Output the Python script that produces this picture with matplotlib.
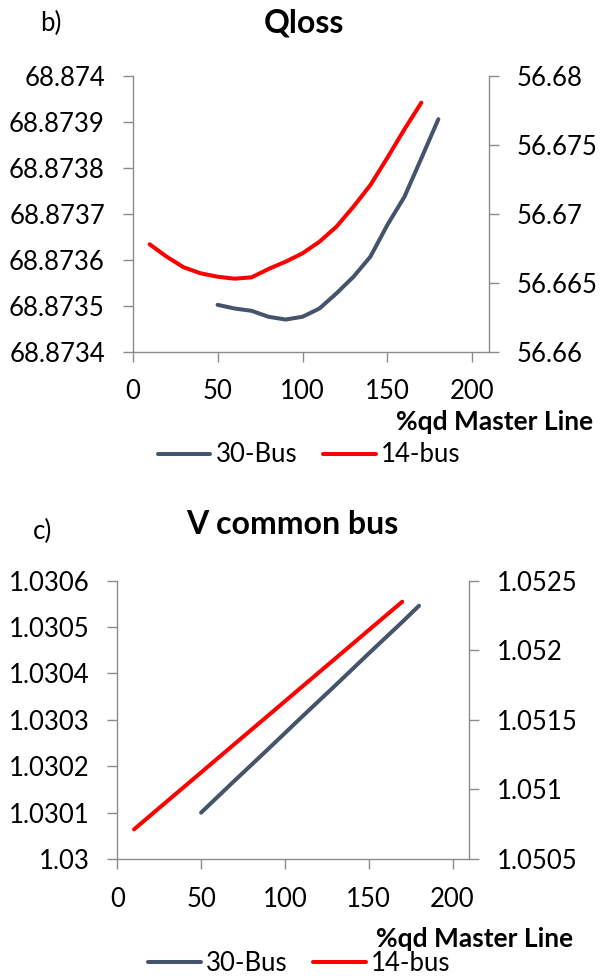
import matplotlib
matplotlib.use("Agg")
import matplotlib.pyplot as plt
from matplotlib.ticker import FixedLocator, FixedFormatter
from matplotlib.lines import Line2D

plt.rcParams['font.family'] = ['Lato', 'DejaVu Sans']

# ---- data -------------------------------------------------------------
series_names = ["30-Bus", "14-bus"]
x_ticks = [0, 50, 100, 150, 200]
x_tick_labels = ["0", "50", "100", "150", "200"]
x_label = "%qd Master Line"

# Qloss (panel b): 30-Bus on the left axis, 14-bus on the right axis
qloss_x_30 = [50, 60, 70, 80, 90, 100, 110, 120, 130, 140, 150, 160, 170, 180]
qloss_30 = [68.873502, 68.873494, 68.873489, 68.873476, 68.873470, 68.873476,
            68.873494, 68.873527, 68.873563, 68.873607, 68.873676, 68.873737,
            68.873821, 68.873906]
qloss_x_14 = [10, 20, 30, 40, 50, 60, 70, 80, 90, 100, 110, 120, 130, 140,
              150, 160, 170]
qloss_14 = [56.667791, 56.666892, 56.666123, 56.665687, 56.665441, 56.665297,
            56.665394, 56.666000, 56.666530, 56.667137, 56.667981, 56.669071,
            56.670522, 56.672093, 56.674075, 56.676131, 56.678066]
qloss_left_ticks = [68.8734, 68.8735, 68.8736, 68.8737, 68.8738, 68.8739, 68.8740]
qloss_left_labels = ["68.8734", "68.8735", "68.8736", "68.8737", "68.8738",
                     "68.8739", "68.874"]
qloss_right_ticks = [56.660, 56.665, 56.670, 56.675, 56.680]
qloss_right_labels = ["56.66", "56.665", "56.67", "56.675", "56.68"]

# V common bus (panel c)
v_x_30 = [50, 70, 90, 110, 130, 150, 170, 180]
v_30 = [1.030100, 1.030169, 1.030237, 1.030306, 1.030374, 1.030443,
        1.030511, 1.030546]
v_x_14 = [10, 30, 50, 70, 90, 110, 130, 150, 170]
v_14 = [1.050713, 1.050918, 1.051122, 1.051327, 1.051531, 1.051736,
        1.051940, 1.052145, 1.052349]
v_left_ticks = [1.0300, 1.0301, 1.0302, 1.0303, 1.0304, 1.0305, 1.0306]
v_left_labels = ["1.03", "1.0301", "1.0302", "1.0303", "1.0304", "1.0305",
                 "1.0306"]
v_right_ticks = [1.0505, 1.0510, 1.0515, 1.0520, 1.0525]
v_right_labels = ["1.0505", "1.051", "1.0515", "1.052", "1.0525"]

# ---- styling ------------------------------------------------------------
W, H = 601, 976
C30 = "#44546A"
C14 = "#FF0000"
AXIS_GREY = "#8C8C8C"
FS = 18.5
LW = 2.9

fig = plt.figure(figsize=(W / 100, H / 100), dpi=100)


def px_axes(left, top, right, bottom):
    return fig.add_axes([left / W, 1 - bottom / H, (right - left) / W,
                         (bottom - top) / H])


def style(ax, side):
    for s in ax.spines.values():
        s.set_visible(False)
        s.set_color(AXIS_GREY)
        s.set_linewidth(1.0)
    if side == "left":
        ax.spines["left"].set_visible(True)
        ax.spines["bottom"].set_visible(True)
    else:
        ax.spines["right"].set_visible(True)
    ax.tick_params(axis="both", direction="out", length=7, width=1.0,
                   color=AXIS_GREY, labelsize=FS, labelcolor="black", pad=13)
    ax.set_facecolor("none")


def panel(box, x30, y30, x14, y14, lt, ll, rt, rl, title, tag,
          title_xy, tag_xy, xlabel_xy, legend_xy):
    ax = px_axes(*box)
    ax2 = ax.twinx()
    style(ax, "left")
    style(ax2, "right")
    ax.plot(x30, y30, color=C30, lw=LW, solid_capstyle="round",
            solid_joinstyle="round")
    ax2.plot(x14, y14, color=C14, lw=LW, solid_capstyle="round",
             solid_joinstyle="round")
    ax.set_xlim(0, 210)
    ax.xaxis.set_major_locator(FixedLocator(x_ticks))
    ax.xaxis.set_major_formatter(FixedFormatter(x_tick_labels))
    ax.set_ylim(lt[0], lt[-1])
    ax.yaxis.set_major_locator(FixedLocator(lt))
    ax.yaxis.set_major_formatter(FixedFormatter(ll))
    ax2.set_ylim(rt[0], rt[-1])
    ax2.yaxis.set_major_locator(FixedLocator(rt))
    ax2.yaxis.set_major_formatter(FixedFormatter(rl))
    ax2.tick_params(axis="x", bottom=False, labelbottom=False)

    fig.text(title_xy[0] / W, 1 - title_xy[1] / H, title, ha="center",
             va="baseline", fontsize=23, fontweight="bold")
    fig.text(tag_xy[0] / W, 1 - tag_xy[1] / H, tag, ha="left",
             va="baseline", fontsize=FS)
    fig.text(xlabel_xy[0] / W, 1 - xlabel_xy[1] / H, x_label, ha="right",
             va="baseline", fontsize=FS + 0.5, fontweight="bold")

    handles = [Line2D([], [], color=C30, lw=LW, solid_capstyle="round"),
               Line2D([], [], color=C14, lw=LW, solid_capstyle="round")]
    fig.legend(handles, series_names, loc="center",
               bbox_to_anchor=(legend_xy[0] / W, 1 - legend_xy[1] / H),
               ncol=2, frameon=False, fontsize=FS, handlelength=2.05,
               handletextpad=0.2, columnspacing=1.0, borderpad=0,
               borderaxespad=0)
    return ax, ax2


panel((132.7, 76, 489.3, 351.7), qloss_x_30, qloss_30, qloss_x_14, qloss_14,
      qloss_left_ticks, qloss_left_labels, qloss_right_ticks,
      qloss_right_labels, "Qloss", "b)",
      title_xy=(303.7, 32.7), tag_xy=(40, 30.7), xlabel_xy=(593.3, 430),
      legend_xy=(309, 455))

panel((117.3, 580.7, 469.3, 859), v_x_30, v_30, v_x_14, v_14,
      v_left_ticks, v_left_labels, v_right_ticks, v_right_labels,
      "V common bus", "c)",
      title_xy=(292, 534.3), tag_xy=(33, 539.3), xlabel_xy=(573.3, 946.7),
      legend_xy=(299.2, 963.3))

fig.savefig("out.png", dpi=100, facecolor="white")
